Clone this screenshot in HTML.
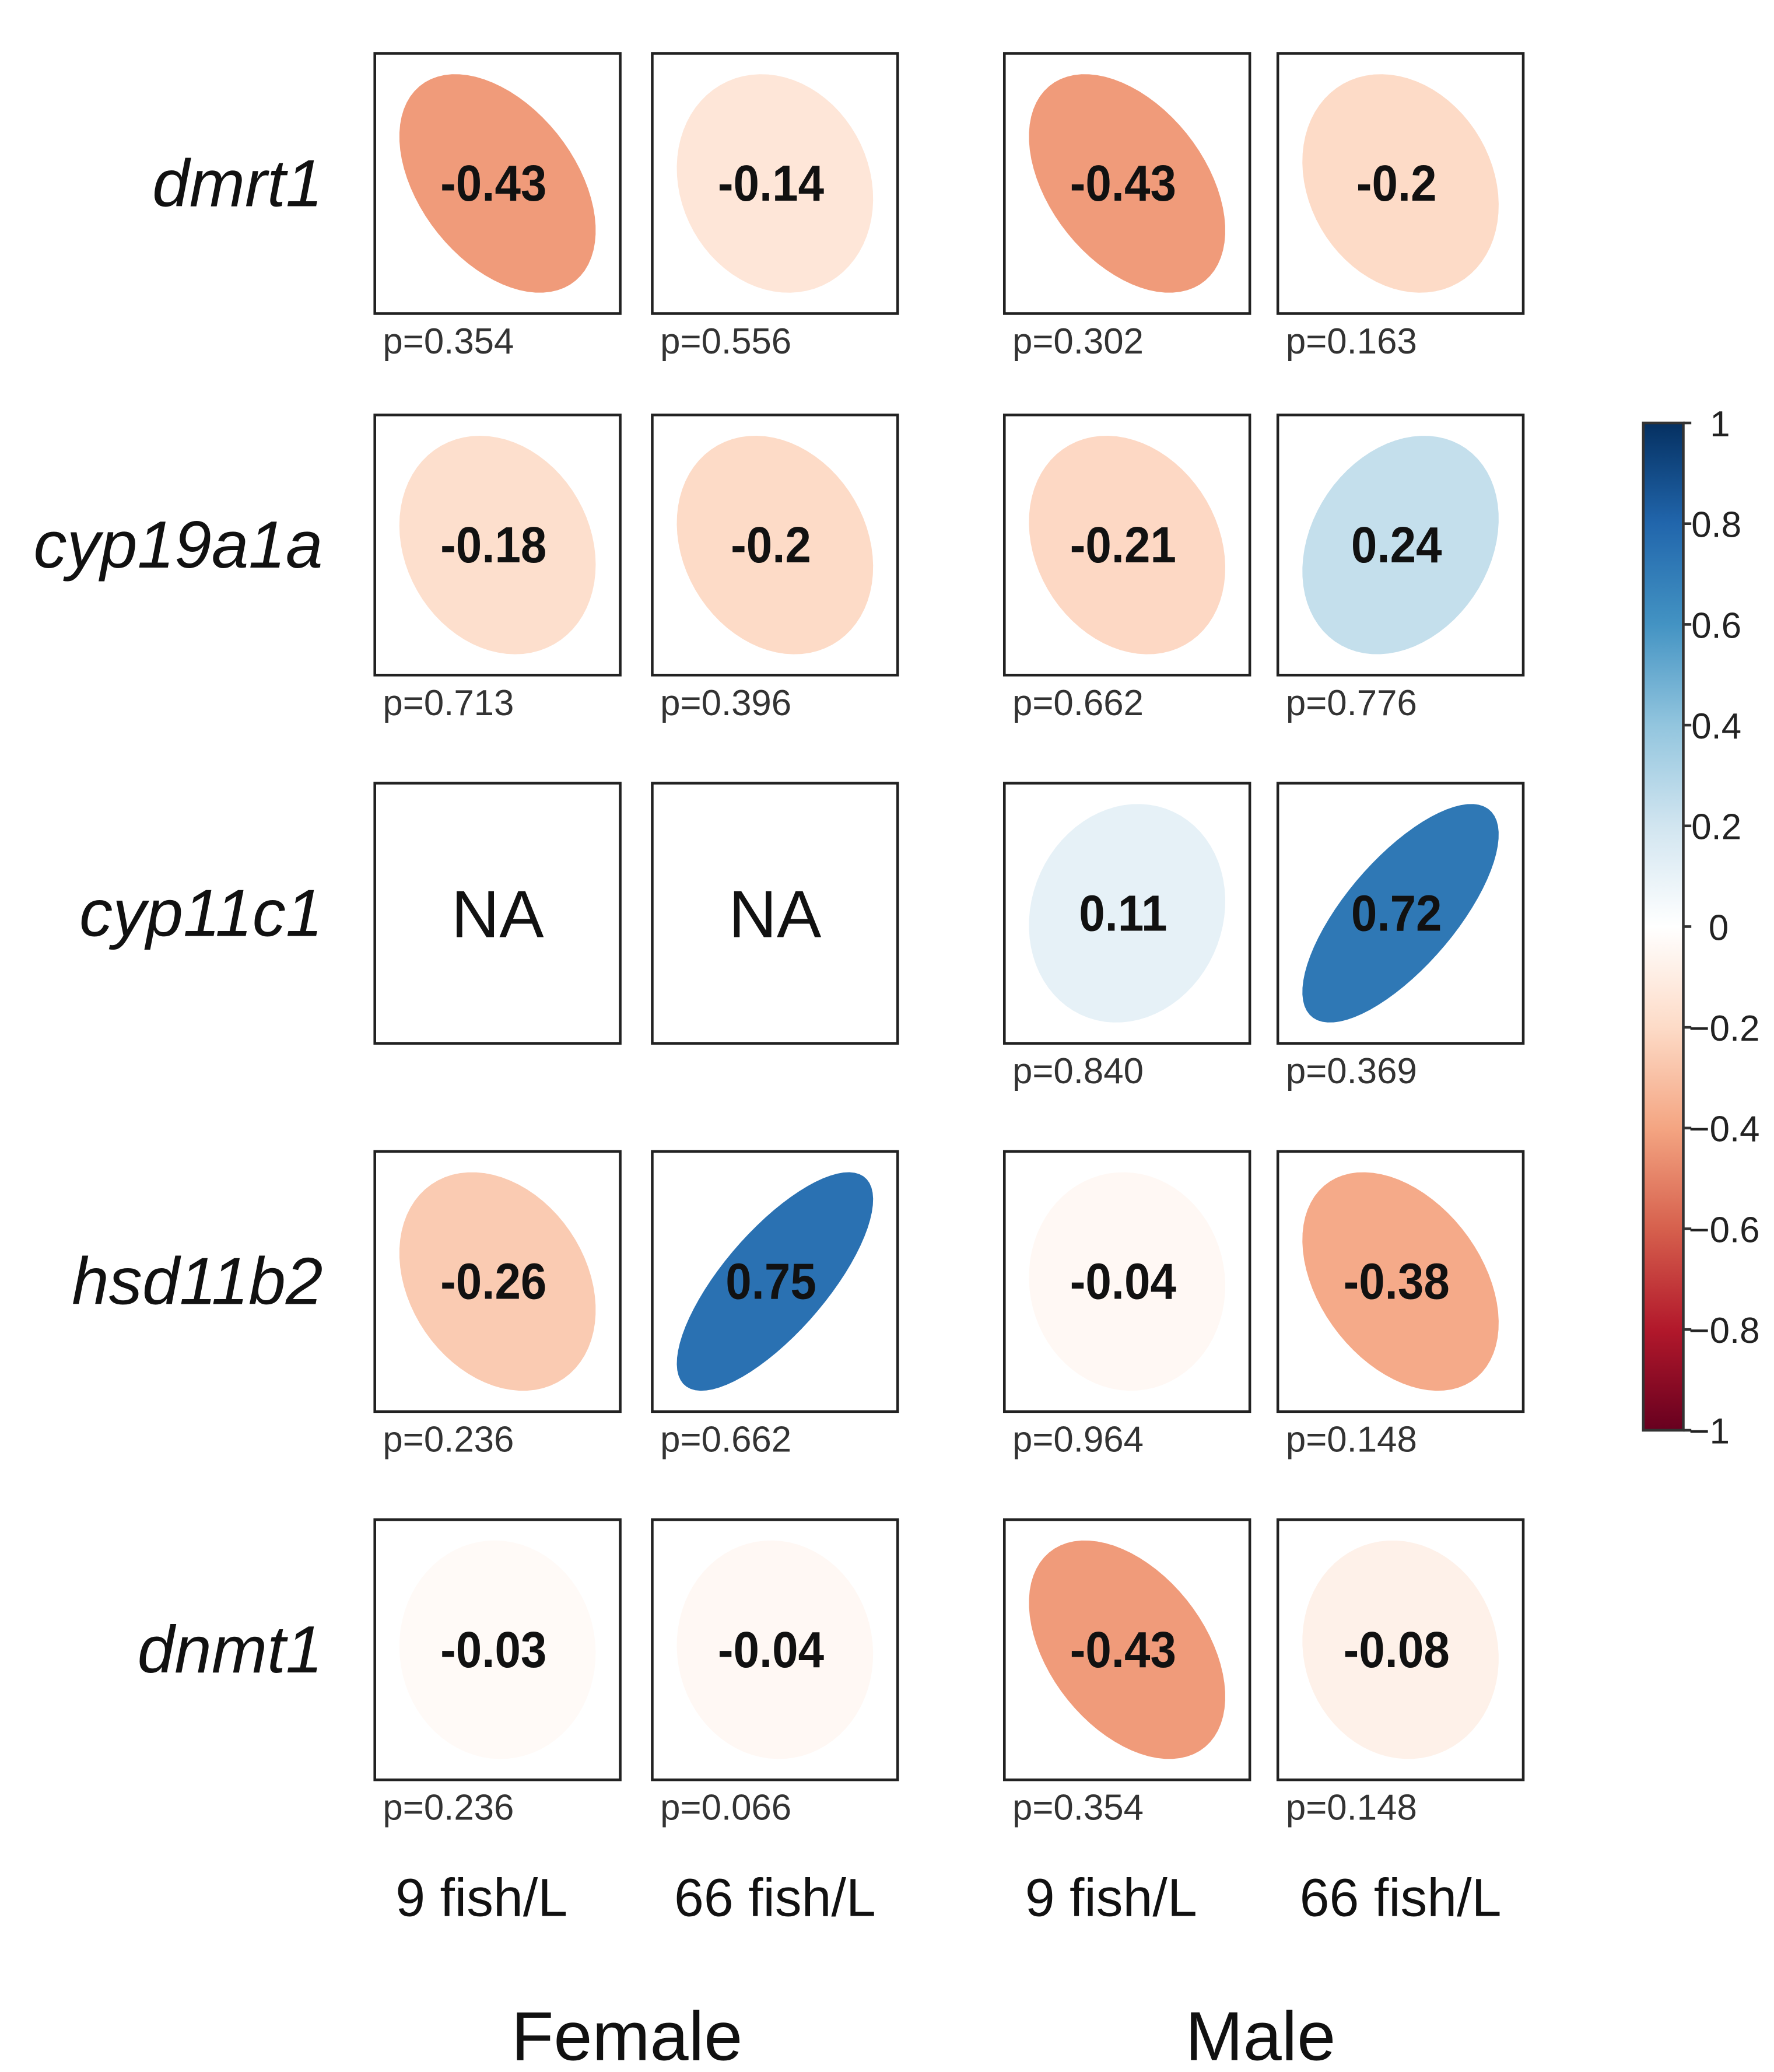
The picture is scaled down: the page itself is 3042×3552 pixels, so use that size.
<!DOCTYPE html>
<html><head><meta charset="utf-8"><style>
html,body{margin:0;padding:0;background:#fff;}
svg{display:block;}
text{font-family:"Liberation Sans",Arial,sans-serif;}
</style></head><body>
<svg id="chart" width="3042" height="3552" viewBox="0 0 1330 1553" preserveAspectRatio="none" xmlns="http://www.w3.org/2000/svg"></svg>
<script>
const genes = ["dmrt1","cyp19a1a","cyp11c1","hsd11b2","dnmt1"];
const groups = ["female-9","female-66","male-9","male-66"];
const groupLabels = ["9 fish/L","66 fish/L","9 fish/L","66 fish/L"];
const rFemale9 = [-0.43,-0.18,null,-0.26,-0.03];
const rFemale66 = [-0.14,-0.2,null,0.75,-0.04];
const rMale9 = [-0.43,-0.21,0.11,-0.04,-0.43];
const rMale66 = [-0.2,0.24,0.72,-0.38,-0.08];
const pFemale9 = ["0.354","0.713","","0.236","0.236"];
const pFemale66 = ["0.556","0.396","","0.662","0.066"];
const pMale9 = ["0.302","0.662","0.840","0.964","0.354"];
const pMale66 = ["0.163","0.776","0.369","0.148","0.148"];
const cbTicks = [1,0.8,0.6,0.4,0.2,0,-0.2,-0.4,-0.6,-0.8,-1];

const rAll=[rFemale9,rFemale66,rMale9,rMale66];
const pAll=[pFemale9,pFemale66,pMale9,pMale66];
const NS="http://www.w3.org/2000/svg";
const svg=document.getElementById('chart');
function mk(tag,attrs,parent){const e=document.createElementNS(NS,tag);for(const k in attrs)e.setAttribute(k,attrs[k]);(parent||svg).appendChild(e);return e;}
const colX=[281,489,753,958], rowY=[40,311,587,863,1139], boxW=184, boxH=195;
const pal=["#67001F","#B2182B","#D6604D","#F4A582","#FDDBC7","#FFFFFF","#D1E5F0","#92C5DE","#4393C3","#2166AC","#053061"];
function hex2(h){return [1,3,5].map(i=>parseInt(h.substr(i,2),16));}
function color(r){const t=(r+1)/2*10;const i=Math.min(9,Math.floor(t));const f=t-i;const a=hex2(pal[i]),b=hex2(pal[i+1]);return "rgb("+a.map((v,k)=>Math.round(v+(b[k]-v)*f)).join(",")+")";}
function ellipsePath(cx,cy,w,h,r){const d=Math.acos(r);let s="";for(let k=0;k<=72;k++){const t=k/72*2*Math.PI;const x=cx+Math.cos(t+d/2)*w*0.40;const y=cy-Math.cos(t-d/2)*h*0.42;s+=(k?"L":"M")+x.toFixed(2)+","+y.toFixed(2);}return s+"Z";}

genes.forEach((g,i)=>{
  const t=mk('text',{x:242,y:rowY[i]+boxH/2+17,'text-anchor':'end','font-size':50,'font-style':'italic',fill:'#111'});
  t.textContent=g;
  
  
});
groups.forEach((grp,j)=>{
  genes.forEach((g,i)=>{
    const x=colX[j],y=rowY[i],cx=x+boxW/2,cy=y+boxH/2;
    const r=rAll[j][i];
    const cell=mk('g',{});
    
    
    if(r!==null){
      const el=mk('path',{d:ellipsePath(cx,cy,boxW,boxH,r),fill:color(r)},cell);
      
      
      const vt=mk('text',{x:cx-3,y:cy+13,'text-anchor':'middle','font-size':38,'font-weight':'bold',fill:'#111',transform:'translate('+(cx-3)+',0) scale(0.92,1) translate('+(-(cx-3))+',0)'},cell);
      vt.textContent=String(r);
      
      
    } else {
      const na=mk('text',{x:cx,y:cy+18,'text-anchor':'middle','font-size':50,fill:'#111'},cell);
      na.textContent="NA";
      
      
    }
    const bx=mk('rect',{x:x,y:y,width:boxW,height:boxH,fill:'none',stroke:'#222','stroke-width':2},cell);
    
    
    if(pAll[j][i]){
      const pt=mk('text',{x:x+6,y:y+boxH+30,'font-size':27,fill:'#333'},cell);
      pt.textContent="p="+pAll[j][i];
      
      
    }
  });
  const gl=mk('text',{x:colX[j]+boxW/2-12+(j%2?12:0),y:1436,'text-anchor':'middle','font-size':40,fill:'#111'});
  gl.textContent=groupLabels[j];
  
  
});
const fem=mk('text',{x:470,y:1544,'text-anchor':'middle','font-size':52,fill:'#111'});fem.textContent="Female";


const mal=mk('text',{x:945,y:1544,'text-anchor':'middle','font-size':52,fill:'#111'});mal.textContent="Male";



const cbX=1232,cbW=30,cbTop=317,cbBot=1072;
const defs=mk('defs',{});
const lg=mk('linearGradient',{id:'cbgrad',x1:0,y1:0,x2:0,y2:1},defs);
pal.slice().reverse().forEach((c,k)=>mk('stop',{offset:(k/10),'stop-color':c},lg));
const cb=mk('rect',{x:cbX,y:cbTop,width:cbW,height:cbBot-cbTop,fill:'url(#cbgrad)',stroke:'#333','stroke-width':2});


function cbY(v){return cbTop+(1-v)/2*(cbBot-cbTop);}
cbTicks.forEach(v=>{
  const y=cbY(v);
  const tk=mk('line',{x1:cbX+cbW,x2:cbX+cbW+6,y1:y,y2:y,stroke:'#333','stroke-width':2});
  
  
  const tt=mk('text',{x:v===0?1281:(v===1?1282:(v<0?1266:1268)),y:y+10,'font-size':27,fill:'#222'});
  tt.textContent=(v<0?"\u2212":"")+(v===1||v===-1||v===0?String(Math.abs(v)):Math.abs(v).toFixed(1));
  
  
});
</script>
</body></html>
